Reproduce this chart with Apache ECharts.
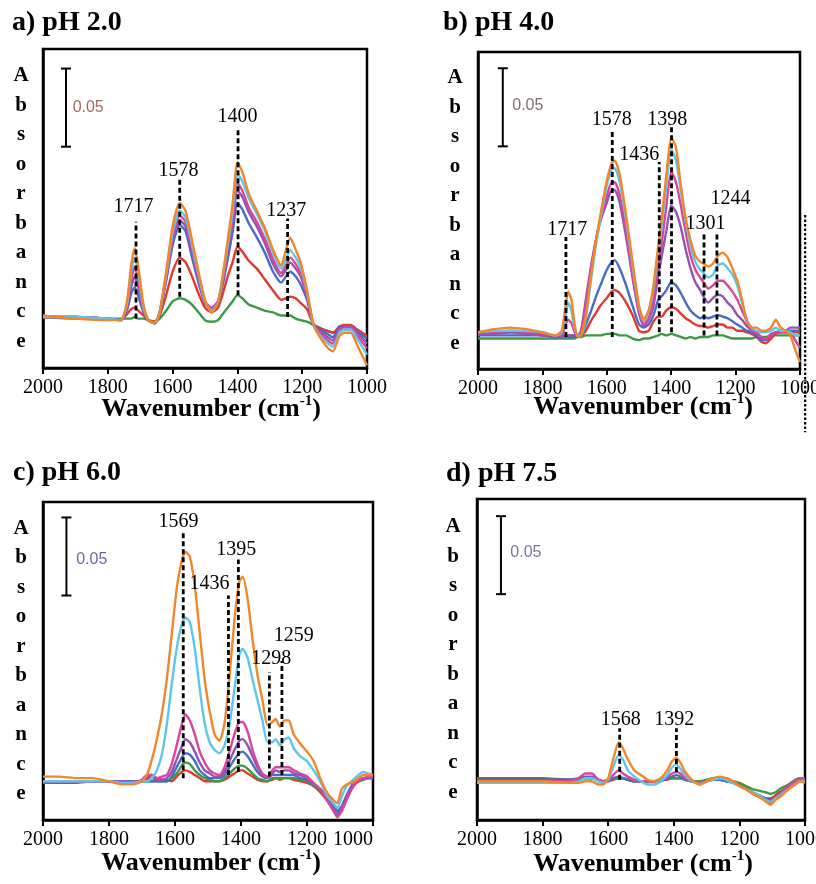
<!DOCTYPE html>
<html>
<head>
<meta charset="utf-8">
<script src="https://cdn.jsdelivr.net/npm/echarts@6/dist/echarts.min.js"></script>
<style>html,body{margin:0;padding:0;background:#fff}#chart{width:816px;height:884px}</style>
</head>
<body>
<div id="chart"></div>
<script>
// ---------- DATA (absorbance in mAbs = 0.001 A; wavenumber in cm-1) ----------
const xTicks = [1000, 1200, 1400, 1600, 1800, 2000];
const panelTitles = ['a) pH 2.0', 'b) pH 4.0', 'c) pH 6.0', 'd) pH 7.5'];
const yAxisTitle = 'Absorbance';
const scaleBarText = '0.05';
const SCALE_LEN = 50; // 0.05 A

// panel a
const wnA = [2000,1900,1800,1760,1740,1728,1717,1705,1690,1675,1655,1640,1620,1600,1578,1560,1540,1520,1500,1480,1460,1445,1430,1415,1400,1385,1365,1340,1315,1290,1265,1250,1237,1220,1205,1185,1165,1145,1120,1105,1085,1070,1050,1030,1000];
const aOrange  = [1,-1,-2,-2,11,33,44,31,8,-2,-4,3,29,58,73,68,49,29,11,3,9,27,49,72,99,93,79,68,57,43,33,43,51,43,35,17,-5,-13,-20,-22,-12,-10,-10,-18,-31];
const aCyan    = [0,0,-1,-2,9,29,38,27,6,-2,-4,3,27,54,68,64,46,27,10,4,9,26,46,67,92,87,76,66,55,41,31,37,43,38,32,16,-5,-12,-17,-19,-10,-8,-8,-14,-24];
const aMagenta = [0,0,-1,-2,8,24,32,22,5,-2,-4,3,26,51,65,61,44,26,10,5,10,24,44,62,86,81,70,61,50,37,28,33,38,34,28,14,-5,-10,-15,-17,-8,-7,-7,-12,-20];
const aPurple  = [0,0,-1,-2,6,19,26,18,4,-2,-4,3,24,49,62,58,41,24,10,6,10,23,41,59,81,77,67,58,47,34,26,30,35,31,26,13,-5,-9,-13,-15,-7,-6,-6,-10,-17];
const aBlue    = [0,0,-1,-2,5,15,19,13,3,-2,-4,3,23,46,59,55,38,22,9,5,9,21,37,54,73,69,60,51,41,29,22,26,29,26,21,11,-5,-8,-11,-13,-6,-6,-6,-9,-14];
const aRed     = [0,0,-1,-2,2,5,6,4,1,-2,-3,1,14,29,38,35,26,15,6,3,6,15,26,35,45,42,36,31,24,17,11,12,13,12,9,5,-5,-7,-9,-10,-6,-5,-5,-8,-12];
const aGreen   = [0,-1,-1,-1,-1,-1,0,-1,-1,-2,-3,-1,4,10,12,11,8,3,-2,-3,-2,2,6,10,14,12,8,6,4,3,1,1,1,-1,-2,-3,-5,-7,-9,-10,-8,-8,-8,-10,-13];
const peakTextA = ['1717','1578','1400','1237'];
const peakWnA   = [1713,1578,1398,1245];
const peakLowA  = [-1,13,14,0];
const peakHighA = [61,88,121,63];
const peakLabelWnA = [1719,1580,1398,1248];
const peakLabelYA  = [70,93,128,68];

// panel b
const wnB = [2000,1950,1900,1850,1800,1760,1740,1728,1720,1710,1700,1690,1680,1665,1650,1635,1620,1600,1585,1575,1560,1540,1520,1500,1485,1470,1455,1440,1430,1415,1400,1385,1370,1355,1340,1325,1310,1300,1285,1270,1255,1240,1225,1210,1195,1180,1165,1150,1135,1120,1105,1090,1075,1060,1045,1030,1015,1000];
const bOrange  = [3,5,6,5,3,1,4,20,29,24,8,0,1,14,38,60,78,100,111,113,104,78,48,20,11,17,33,59,75,104,128,121,97,76,62,52,48,47,45,47,52,54,51,44,36,24,10,6,6,4,4,6,11,6,4,1,-8,-16];
const bCyan    = [3,4,4,4,3,1,3,14,22,17,6,1,1,12,35,57,75,97,107,108,99,75,45,19,10,16,31,56,70,97,120,113,93,74,58,48,43,41,38,40,46,47,44,40,33,22,11,6,4,3,3,4,6,4,4,3,1,1];
const bMagenta = [3,3,4,3,2,1,1,8,11,9,3,1,3,20,42,60,75,90,99,99,91,67,40,16,8,12,24,46,59,84,106,99,84,67,52,43,38,35,31,33,36,36,33,29,24,17,10,4,3,0,-1,1,3,3,3,3,-2,-7];
const bPurple  = [2,2,3,2,1,0,0,1,1,1,1,1,4,24,44,61,74,86,94,94,86,64,38,15,7,11,20,40,51,68,84,80,70,56,44,35,30,26,22,25,27,26,22,19,14,11,7,4,3,-1,-1,2,3,4,4,6,6,6];
const bBlue    = [1,1,1,1,1,0,0,0,0,0,0,1,1,8,16,25,33,43,48,49,44,33,20,8,6,8,14,24,26,30,35,33,28,22,17,14,12,13,12,13,14,13,12,10,8,6,4,3,1,-2,-2,1,3,3,4,4,4,4];
const bRed     = [2,3,3,3,1,1,1,1,1,1,1,1,1,4,10,15,20,25,29,30,28,22,14,4,3,4,10,13,13,17,19,18,15,12,10,8,7,7,6,7,8,8,6,6,4,4,3,2,0,-3,-4,-1,2,3,3,3,3,3];
const bGreen   = [-1,-1,-1,-1,-1,-1,-1,-1,-1,-1,-1,0,0,1,1,1,1,2,2,2,1,1,-1,-2,-1,-1,0,1,2,1,2,1,0,-1,0,-1,0,0,0,1,1,1,0,-1,-1,-1,-1,-1,0,0,0,1,1,1,1,1,1,1];
const peakTextB = ['1717','1578','1436','1398','1301','1244'];
const peakWnB   = [1727,1583,1437,1399,1298,1258];
const peakLowB  = [0,0,3,3,1,1];
const peakHighB = [64,132,112,135,67,67];
const peakLabelWnB = [1721,1583,1498,1411,1292,1214];
const peakLabelYB  = [68,139,116,139,72,88];
const edgeLineWnB = 984;          // dotted line just right of panel b
const edgeLineYB  = [78,-61];

// panel c
const wnC = [2000,1950,1900,1850,1800,1760,1730,1700,1685,1670,1655,1640,1625,1610,1595,1580,1569,1555,1540,1525,1510,1495,1480,1465,1450,1435,1420,1405,1395,1380,1365,1350,1335,1320,1305,1295,1282,1268,1255,1240,1220,1200,1180,1160,1140,1120,1108,1095,1080,1065,1050,1030,1015,1000];
const cOrange  = [2,2,1,1,-1,-3,-3,-1,3,13,26,42,64,93,122,140,146,143,124,94,64,44,29,25,36,66,102,127,130,116,90,67,51,35,37,39,34,38,38,29,23,18,12,1,-8,-13,-15,-6,-3,-2,0,3,3,3];
const cCyan    = [-1,-1,-1,-1,-1,-2,-2,-1,-1,1,6,16,35,61,84,99,104,101,84,58,36,24,19,17,22,35,58,80,84,78,64,51,38,24,24,26,22,26,27,20,15,12,6,-1,-10,-15,-18,-11,-4,-1,2,5,4,3];
const cMagenta = [-1,-1,-1,-1,-1,-2,-2,0,3,3,1,2,3,10,22,35,42,38,29,18,11,6,4,3,8,18,29,37,37,31,19,10,4,2,6,8,8,8,8,6,4,2,-2,-6,-13,-20,-24,-20,-13,-6,-1,1,2,2];
const cPurple  = [-1,-1,-1,-1,-1,-1,-1,-1,0,1,0,0,1,5,13,21,26,24,18,11,6,4,2,2,5,12,19,25,26,22,15,8,3,1,4,6,5,6,6,4,3,1,-3,-6,-12,-18,-22,-18,-11,-6,-1,1,1,2];
const cBlue    = [-1,-1,-1,-1,-1,-1,-1,-1,-1,-1,-1,-1,-1,2,8,14,17,16,12,6,3,1,1,1,3,8,13,17,18,15,10,5,2,1,3,3,3,3,3,3,1,0,-3,-6,-10,-16,-20,-17,-10,-4,-1,1,1,1];
const cGreen   = [-1,-1,-1,-1,-1,-1,-1,-1,-1,-1,-1,-1,-1,1,4,9,11,10,6,3,1,0,-1,-1,1,4,7,9,9,7,4,1,0,-1,1,1,1,1,1,1,0,-1,-4,-7,-12,-19,-22,-19,-12,-5,-1,0,1,1];
const cRed     = [-2,-2,-2,-1,-1,-1,-1,-1,1,3,1,0,0,-1,2,5,6,5,3,1,-1,-1,-1,-1,0,2,4,6,6,4,2,0,-1,-1,0,1,0,1,1,0,-1,-2,-4,-8,-13,-19,-23,-20,-12,-6,-2,0,1,1];
const peakTextC = ['1569','1436','1395','1298','1259'];
const peakWnC   = [1575,1438,1408,1314,1276];
const peakLowC  = [1,3,5,2,3];
const peakHighC = [159,118,141,69,76];
const peakLabelWnC = [1588,1494,1413,1307,1239];
const peakLabelYC  = [165,125,147,77,92];

// panel d
const wnD = [2000,1900,1800,1720,1690,1670,1650,1630,1615,1600,1585,1568,1555,1540,1520,1500,1480,1460,1440,1420,1405,1392,1380,1365,1345,1320,1300,1280,1260,1240,1220,1200,1180,1160,1140,1120,1105,1090,1070,1050,1030,1015,1000];
const dOrange  = [-1,-1,-1,-2,-2,-1,-1,-3,-3,1,13,24,20,13,6,3,0,-1,1,6,12,14,11,5,0,-3,-1,1,2,1,-1,-4,-6,-9,-11,-14,-16,-13,-10,-6,-3,-1,-2];
const dCyan    = [-2,-2,-2,-2,-1,1,1,-1,-2,0,8,16,13,6,2,-1,-3,-3,-1,3,8,10,7,3,-1,-3,-1,0,1,0,-2,-4,-6,-8,-10,-13,-14,-12,-9,-6,-3,-1,-1];
const dMagenta = [-1,-1,-1,-1,1,4,4,0,-1,0,3,6,4,2,0,-1,-1,-1,0,2,4,5,4,1,-1,-2,-1,1,1,1,-1,-4,-6,-9,-11,-13,-15,-12,-8,-4,-1,1,1];
const dBlue    = [0,0,0,0,1,2,2,0,-1,-1,1,2,1,0,-1,-1,-1,-1,-1,1,2,3,2,0,-1,-2,-1,0,0,-1,-2,-4,-6,-8,-10,-12,-13,-12,-8,-4,-1,1,1];
const dGreen   = [0,0,0,0,0,1,1,0,-1,0,1,1,1,0,-1,-1,-1,-1,0,1,1,1,1,0,-1,-1,0,1,1,0,-1,-2,-4,-6,-7,-8,-9,-8,-5,-3,0,1,1];
const dRed     = [1,1,1,0,0,1,1,0,-1,-1,0,1,1,0,-1,-1,-1,-1,0,0,1,1,1,0,-1,-1,-1,0,0,-1,-1,-3,-5,-8,-10,-12,-12,-10,-7,-4,-1,1,1];
const peakTextD = ['1568','1392'];
const peakWnD   = [1565,1392];
const peakLowD  = [0,5];
const peakHighD = [33,33];
const peakLabelWnD = [1560,1397];
const peakLabelYD  = [38,38];

// scale bars (0.05 A)
const scaleBarWn   = [1929,1923,1929,1927];
const scaleBarLow  = [109,122,118,119];
const scaleLabelWn = [1907,1892,1898,1897];
const scaleLabelY  = [134,148,141,145];

// ---------- STYLE / LAYOUT ----------
const SERIF = "'Liberation Serif','Times New Roman',serif";
const SANS = "'Liberation Sans',Arial,sans-serif";
const COL = {orange:'#f0872b', cyan:'#5ec6ea', magenta:'#d8469b', purple:'#9552b6', blue:'#476bc6', red:'#e2392e', green:'#3c9a45'};

const panels = [
  { wn: wnA, lines: [['green',aGreen],['red',aRed],['blue',aBlue],['purple',aPurple],['magenta',aMagenta],['cyan',aCyan],['orange',aOrange]],
    pk: {t: peakTextA, w: peakWnA, lo: peakLowA, hi: peakHighA, lw: peakLabelWnA, ly: peakLabelYA},
    grid: {left:43, top:49, width:324, height:319}, yMin:-32.6, yMax:171.5,
    title: {left:12, top:9}, gapX:26, padX:12, gapY:22, padY:[0,0,0,0], scaleColor:'#8b4435' },
  { wn: wnB, lines: [['green',bGreen],['red',bRed],['blue',bBlue],['purple',bPurple],['magenta',bMagenta],['cyan',bCyan],['orange',bOrange]],
    pk: {t: peakTextB, w: peakWnB, lo: peakLowB, hi: peakHighB, lw: peakLabelWnB, ly: peakLabelYB},
    grid: {left:478, top:52, width:322, height:317}, yMin:-20.5, yMax:182.4,
    title: {left:443, top:9}, gapX:23, padX:8, gapY:23, padY:[0,0,8,0], scaleColor:'#5e4c4c' },
  { wn: wnC, lines: [['red',cRed],['green',cGreen],['blue',cBlue],['purple',cPurple],['magenta',cMagenta],['cyan',cCyan],['orange',cOrange]],
    pk: {t: peakTextC, w: peakWnC, lo: peakLowC, hi: peakHighC, lw: peakLabelWnC, ly: peakLabelYC},
    grid: {left:43, top:502, width:330, height:318}, yMin:-25.8, yMax:177.9,
    title: {left:13, top:459}, gapX:28, padX:6, gapY:22, padY:[0,0,0,0], scaleColor:'#4b3f8e' },
  { wn: wnD, lines: [['red',dRed],['green',dGreen],['blue',dBlue],['magenta',dMagenta],['cyan',dCyan],['orange',dOrange]],
    pk: {t: peakTextD, w: peakWnD, lo: peakLowD, hi: peakHighD, lw: peakLabelWnD, ly: peakLabelYD},
    grid: {left:477, top:499, width:328, height:321}, yMin:-25.8, yMax:180,
    title: {left:446, top:460}, gapX:29, padX:4, gapY:24, padY:[0,0,0,0], scaleColor:'#5a5080' }
];

const grids = [], xAxes = [], yAxes = [], titles = [], series = [];
const transparent = 'rgba(0,0,0,0)';
const centeredLabel = {show:true, position:[0,0], align:'center', verticalAlign:'middle', color:'#000',
  fontSize:20, fontFamily:SERIF, textBorderWidth:0, opacity:1};

panels.forEach((p, i) => {
  grids.push(Object.assign({show:true, borderColor:'#000', borderWidth:2.5, backgroundColor:transparent, containLabel:false, outerBoundsMode:'none'}, p.grid));
  titles.push({text: panelTitles[i], left: p.title.left, top: p.title.top, padding: 0,
    textStyle: {fontFamily: SERIF, fontWeight: 'bold', fontSize: 28, lineHeight: 28, color: '#000'}});
  xAxes.push({
    gridIndex: i, type: 'value', inverse: true, min: xTicks[0], max: xTicks[xTicks.length-1], interval: xTicks[1]-xTicks[0],
    axisLine: {show: true, onZero: false, lineStyle: {color:'#000', width:2.5}},
    axisTick: {show: true, inside: false, length: 6, lineStyle: {color:'#000', width:2}},
    axisLabel: {color:'#000', fontSize:20, fontFamily:SERIF, margin:10,
      alignMinLabel: i === 2 ? 'right' : 'center',
      formatter: v => { const k = xTicks.indexOf(v); return k >= 0 ? String(xTicks[k]) : ''; }},
    splitLine: {show:false},
    name: '{t|Wavenumber (cm}{s|-1}{t|)}', nameLocation: 'middle', nameGap: p.gapX, nameMoveOverlap: false,
    nameTextStyle: {padding:[0,0,0,p.padX], rich: {
      t: {fontFamily:SERIF, fontWeight:'bold', fontSize:26, lineHeight:30, color:'#000'},
      s: {fontFamily:SERIF, fontWeight:'bold', fontSize:15, lineHeight:16, color:'#000', verticalAlign:'top'}
    }}
  });
  yAxes.push({
    gridIndex: i, type: 'value', min: p.yMin, max: p.yMax,
    axisLine: {show:true, onZero:false, lineStyle:{color:'#000', width:2.5}},
    axisTick: {show:false}, axisLabel: {show:false}, splitLine: {show:false},
    name: yAxisTitle.split('').join('\n'), nameLocation: 'middle', nameRotate: 0, nameGap: p.gapY, nameMoveOverlap: false,
    nameTextStyle: {fontFamily:SERIF, fontWeight:'bold', fontSize:21, lineHeight:29.5, color:'#000', align:'center', verticalAlign:'middle', padding: p.padY}
  });
  // spectra
  p.lines.forEach(([c, vals]) => series.push({
    type:'line', xAxisIndex:i, yAxisIndex:i, silent:true, animation:false,
    data: p.wn.map((w, k) => [w, vals[k]]),
    symbol:'none', smooth:0.2, z:2,
    lineStyle:{width:2.4, color:COL[c]}, itemStyle:{color:COL[c]}
  }));
  // dashed peak markers
  p.pk.w.forEach((w, k) => series.push({
    type:'line', xAxisIndex:i, yAxisIndex:i, silent:true, animation:false, z:5,
    data: [[w, p.pk.lo[k]], [w, p.pk.hi[k]]], symbol:'none',
    lineStyle:{color:'#000', width:2.8, type:[5,3]}
  }));
  // peak labels
  series.push({
    type:'scatter', xAxisIndex:i, yAxisIndex:i, silent:true, animation:false, z:6,
    symbolSize:1, itemStyle:{color:transparent},
    data: p.pk.lw.map((w, k) => ({value:[w, p.pk.ly[k]], label:{formatter:p.pk.t[k]}})),
    label: centeredLabel
  });
  // scale bar
  series.push({
    type:'line', xAxisIndex:i, yAxisIndex:i, silent:true, animation:false, z:5,
    data: [[scaleBarWn[i], scaleBarLow[i]], [scaleBarWn[i], scaleBarLow[i] + SCALE_LEN]],
    symbol:'rect', symbolSize:[10,2], showSymbol:true,
    lineStyle:{color:'#000', width:2}, itemStyle:{color:'#000'}
  });
  series.push({
    type:'scatter', xAxisIndex:i, yAxisIndex:i, silent:true, animation:false, z:6,
    symbolSize:1, itemStyle:{color:transparent},
    data: [[scaleLabelWn[i], scaleLabelY[i]]],
    label:{show:true, position:[0,0], align:'left', verticalAlign:'middle', formatter:scaleBarText,
      color:p.scaleColor, fontSize:16, fontFamily:SANS, textBorderWidth:0}
  });
});

const chart = echarts.init(document.getElementById('chart'), null, {renderer:'canvas'});
chart.setOption({
  animation:false,
  backgroundColor:'#fff',
  textStyle:{fontFamily:SERIF},
  title: titles,
  grid: grids,
  xAxis: xAxes,
  yAxis: yAxes,
  series: series
});

// dotted line just right of panel b, placed through panel b's scales
const pTop = chart.convertToPixel({xAxisIndex:1, yAxisIndex:1}, [edgeLineWnB, edgeLineYB[0]]);
const pBot = chart.convertToPixel({xAxisIndex:1, yAxisIndex:1}, [edgeLineWnB, edgeLineYB[1]]);
chart.setOption({
  graphic: [{
    type:'line', silent:true, z:10,
    shape:{x1:pTop[0], y1:pTop[1], x2:pBot[0], y2:pBot[1]},
    style:{stroke:'#000', lineWidth:2.2, lineDash:[2.5,2]}
  }]
});
</script>
</body>
</html>
